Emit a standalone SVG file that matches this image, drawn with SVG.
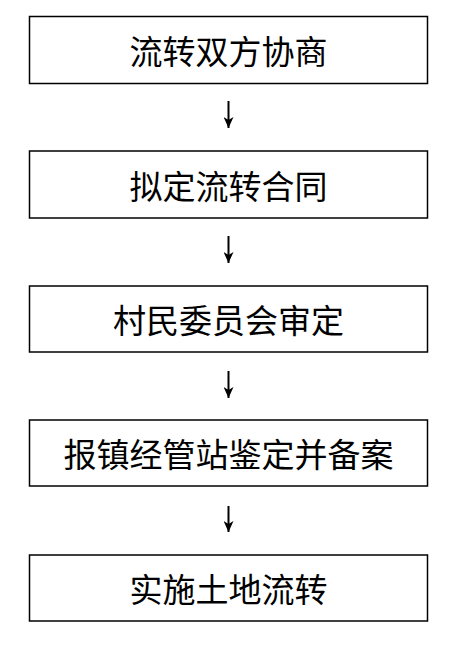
<svg xmlns="http://www.w3.org/2000/svg" width="469" height="653" viewBox="0 0 469 653">
<style>
.box{fill:#fff;stroke:#000;stroke-width:1.5}
.lbl{font-family:"Noto Sans CJK SC","Noto Sans",sans-serif;font-size:33px;fill:#000;text-anchor:middle;dominant-baseline:central}
.arr{stroke:#000;stroke-width:2;fill:none;marker-end:url(#ah)}
</style>
<defs>
<marker id="ah" markerUnits="userSpaceOnUse" markerWidth="12" markerHeight="10" refX="11" refY="5" orient="auto" viewBox="0 0 12 10">
<path d="M0,0 L11,5 L0,10 L3,5 Z" fill="#000"/>
</marker>
</defs>
<rect width="469" height="653" fill="#fff"/>
<g id="connectors">
<line class="arr" x1="228.5" y1="101" x2="228.5" y2="128"/>
<line class="arr" x1="228.5" y1="236" x2="228.5" y2="263"/>
<line class="arr" x1="228.5" y1="371" x2="228.5" y2="398"/>
<line class="arr" x1="228.5" y1="506" x2="228.5" y2="532"/>
</g>
<g id="n1"><rect class="box" x="29.5" y="16.5" width="398" height="67"/><text class="lbl" x="228.5" y="50">流转双方协商</text></g>
<g id="n2"><rect class="box" x="29.5" y="151" width="398" height="67"/><text class="lbl" x="228.5" y="184.5">拟定流转合同</text></g>
<g id="n3"><rect class="box" x="29.5" y="286" width="398" height="66"/><text class="lbl" x="228.5" y="319">村民委员会审定</text></g>
<g id="n4"><rect class="box" x="29.5" y="420" width="398" height="66"/><text class="lbl" x="228.5" y="453">报镇经管站鉴定并备案</text></g>
<g id="n5"><rect class="box" x="29.5" y="555" width="398" height="66"/><text class="lbl" x="228.5" y="588">实施土地流转</text></g>
</svg>
